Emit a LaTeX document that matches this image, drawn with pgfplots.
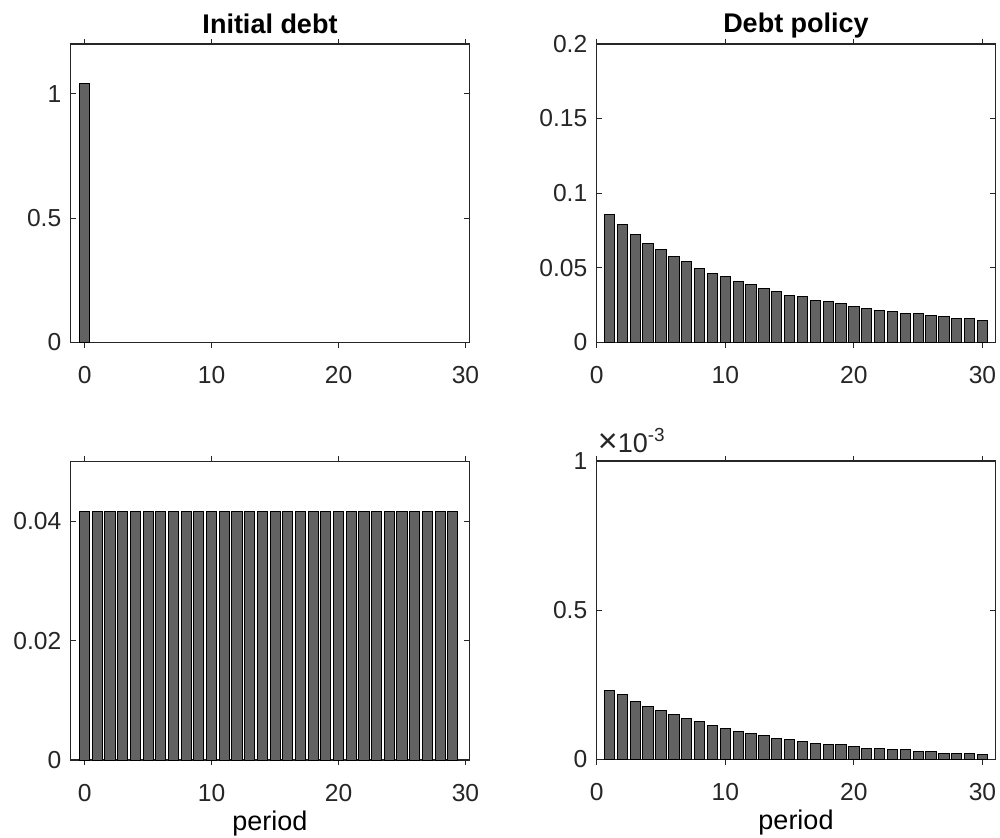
\documentclass[border=0pt]{standalone}
\usepackage{pgfplots}
\pgfplotsset{compat=1.18}
\usepackage{fontspec}
\setmainfont{Liberation Sans}
\definecolor{axc}{RGB}{38,38,38}
\definecolor{barc}{RGB}{98,98,98}
\pgfplotsset{
  every axis title shift=0pt,
  mstyle/.style={
    scale only axis, width=199.3pt, height=149.2pt,
    axis line style={axc, line width=0.7pt},
    tick align=inside, major tick length=2.6pt,
    tick style={axc, line width=0.6pt},
    ybar, bar width=0.8, ymin=0,
    scaled y ticks=false, scaled x ticks=false,
    xtick={0,10,20,30}, xticklabels={0,10,20,30},
    ticklabel style={font=\fontsize{12.3}{14}\selectfont, text=axc},
    xticklabel style={anchor=base, yshift=-18pt},
    yticklabel style={anchor=east, xshift=-1.2pt},
    title style={font=\bfseries\fontsize{13.5}{15}\selectfont, anchor=base, at={(axis description cs:0.5,1)}, yshift=5.5pt},
    xlabel style={font=\fontsize{13.5}{15}\selectfont, anchor=base, at={(axis description cs:0.5,0)}, yshift=-35.2pt},
    cycle list={{fill=barc, draw=black, line width=0.5pt}},
  },
  mbar/.style={fill=barc, draw=black, line width=0.5pt, bar shift=0pt},
}
\pgfplotstableread{
x y
1 0.0855
2 0.0787
3 0.0720
4 0.0662
5 0.0620
6 0.0573
7 0.0539
8 0.0497
9 0.0461
10 0.0438
11 0.0405
12 0.0385
13 0.0360
14 0.0338
15 0.0315
16 0.0304
17 0.0282
18 0.0271
19 0.0260
20 0.0239
21 0.0226
22 0.0215
23 0.0204
24 0.0192
25 0.0192
26 0.0181
27 0.0170
28 0.0159
29 0.0159
30 0.0148
}\debtpolicy
\pgfplotstableread{
x y
0 0.04167
1 0.04167
2 0.04167
3 0.04167
4 0.04167
5 0.04167
6 0.04167
7 0.04167
8 0.04167
9 0.04167
10 0.04167
11 0.04167
12 0.04167
13 0.04167
14 0.04167
15 0.04167
16 0.04167
17 0.04167
18 0.04167
19 0.04167
20 0.04167
21 0.04167
22 0.04167
23 0.04167
24 0.04167
25 0.04167
26 0.04167
27 0.04167
28 0.04167
29 0.04167
}\bottomleft
\pgfplotstableread{
x y
1 0.000232
2 0.000216
3 0.000193
4 0.000176
5 0.000165
6 0.000149
7 0.000138
8 0.000127
9 0.000114
10 0.000103
11 0.000094
12 0.000087
13 0.000081
14 0.000070
15 0.000066
16 0.000061
17 0.000054
18 0.000048
19 0.000048
20 0.000043
21 0.000037
22 0.000037
23 0.000032
24 0.000032
25 0.000026
26 0.000026
27 0.000020
28 0.000020
29 0.000020
30 0.000015
}\bottomright
\begin{document}
\begin{tikzpicture}
\useasboundingbox (0,0) rectangle (500pt,418.5pt);
% top left
\begin{axis}[mstyle, at={(35.35pt,247.25pt)}, anchor=south west,
  xmin=-1.1, xmax=30.3, ymax=1.2,
  ytick={0,0.5,1}, yticklabels={0,0.5,1},
  title={Initial debt}]
\addplot[mbar] coordinates {(0,1.04)};
\end{axis}
% top right
\begin{axis}[mstyle, at={(298.35pt,247.35pt)}, anchor=south west,
  xmin=0, xmax=31, ymax=0.2,
  ytick={0,0.05,0.1,0.15,0.2}, yticklabels={0,0.05,0.1,0.15,0.2},
  title={Debt policy}]
\addplot[mbar] table[x=x,y=y] {\debtpolicy};
\end{axis}
% bottom left
\begin{axis}[mstyle, at={(35.35pt,38.5pt)}, anchor=south west,
  xmin=-1.1, xmax=30.3, ymax=0.05,
  ytick={0,0.02,0.04}, yticklabels={0,0.02,0.04},
  xlabel={period}]
\addplot[mbar] table[x=x,y=y] {\bottomleft};
\end{axis}
% bottom right
\begin{axis}[mstyle, name=br, at={(298.35pt,38.85pt)}, anchor=south west,
  xmin=0, xmax=31, ymax=0.001,
  ytick={0,0.0005,0.001}, yticklabels={0,0.5,1},
  xlabel={period}]
\addplot[mbar] table[x=x,y=y] {\bottomright};
\end{axis}
\node[anchor=base west, inner sep=0pt, text=axc, font=\fontsize{13.5}{15}\selectfont] at ([xshift=0.4pt,yshift=4.3pt]br.north west) {{\fontsize{17}{17}\selectfont ×}10\textsuperscript{-3}};
\end{tikzpicture}
\end{document}
